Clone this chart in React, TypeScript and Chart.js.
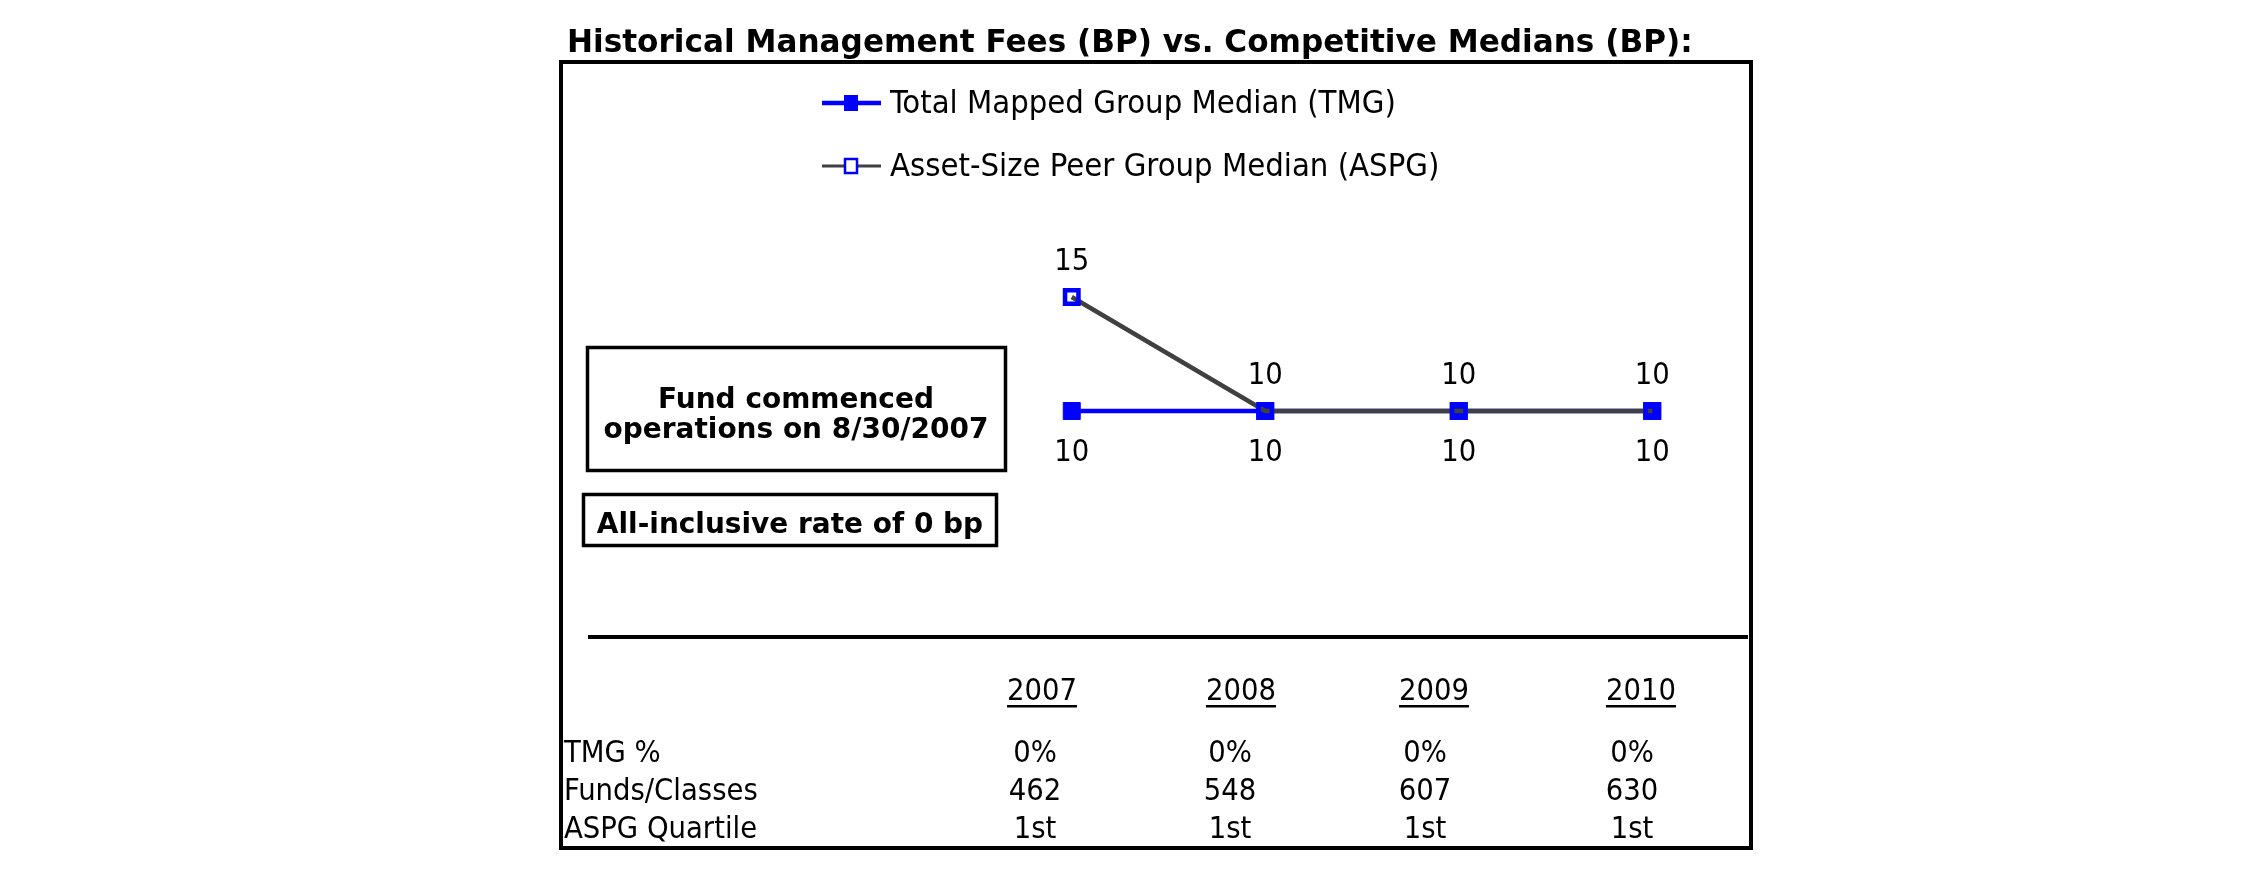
import { useEffect, useRef } from "react";
import { Chart, registerables } from "chart.js";

Chart.register(...registerables);

// ---------- data ----------
const years = ["2007", "2008", "2009", "2010"];
const tmgMedian = [10, 10, 10, 10];
const aspgMedian = [15, 10, 10, 10];
const tmgPct = ["0%", "0%", "0%", "0%"];
const fundsClasses = ["462", "548", "607", "630"];
const aspgQuartile = ["1st", "1st", "1st", "1st"];
const rowLabels = ["TMG %", "Funds/Classes", "ASPG Quartile"];
const chartTitle = "Historical Management Fees (BP) vs. Competitive Medians (BP):";
const seriesNames = ["Total Mapped Group Median (TMG)", "Asset-Size Peer Group Median (ASPG)"];
const noteLines1 = ["Fund commenced", "operations on 8/30/2007"];
const noteLines2 = ["All-inclusive rate of 0 bp"];

// ---------- style ----------
const FONT = '"DejaVu Sans Condensed", "DejaVu Sans", Verdana, sans-serif';
const BOLDFONT = '"DejaVu Sans", Verdana, sans-serif';
const BLUE = "#0000FF";
const GRAY = "#404040";

function fitSize(ctx: CanvasRenderingContext2D, text: string, weight: string, width: number, fam = FONT) {
  ctx.font = `${weight} 100px ${fam}`;
  return (100 * width) / ctx.measureText(text).width;
}

let REG = 30;

const decorPlugin = {
  id: "decor",
  beforeDraw(chart: any) {
    const ctx: CanvasRenderingContext2D = chart.ctx;
    ctx.save();
    REG = fitSize(ctx, "10", "normal", 35);
    ctx.restore();
  },
  afterDraw(chart: any) {
    const ctx: CanvasRenderingContext2D = chart.ctx;
    ctx.save();
    ctx.fillStyle = "#000";
    ctx.strokeStyle = "#000";
    ctx.textBaseline = "alphabetic";

    // title
    const ts = fitSize(ctx, chartTitle, "bold", 1126, BOLDFONT);
    ctx.font = `bold ${ts}px ${BOLDFONT}`;
    ctx.textAlign = "left";
    ctx.fillText(chartTitle, 567, 52);

    // outer frame
    ctx.lineWidth = 4;
    ctx.strokeRect(561, 62, 1190, 786);

    // legend
    const legY = [103, 166];
    ctx.strokeStyle = BLUE;
    ctx.lineWidth = 4.5;
    ctx.beginPath();
    ctx.moveTo(822, legY[0]);
    ctx.lineTo(881, legY[0]);
    ctx.stroke();
    ctx.fillStyle = BLUE;
    ctx.fillRect(851 - 7, legY[0] - 8, 14, 16);

    ctx.strokeStyle = GRAY;
    ctx.lineWidth = 3;
    ctx.beginPath();
    ctx.moveTo(822, legY[1]);
    ctx.lineTo(881, legY[1]);
    ctx.stroke();
    ctx.fillStyle = "#fff";
    ctx.fillRect(851 - 6, legY[1] - 7, 12, 14);
    ctx.strokeStyle = BLUE;
    ctx.lineWidth = 2.5;
    ctx.strokeRect(851 - 6, legY[1] - 7, 12, 14);

    ctx.fillStyle = "#000";
    const l1 = fitSize(ctx, seriesNames[0], "normal", 506);
    ctx.font = `normal ${l1}px ${FONT}`;
    ctx.fillText(seriesNames[0], 890, legY[0] + 10);
    ctx.fillText(seriesNames[1], 890, legY[1] + 10);

    // note boxes
    ctx.strokeStyle = "#000";
    ctx.lineWidth = 3.5;
    ctx.strokeRect(587.5, 347.5, 418, 123);
    ctx.strokeRect(583.5, 494.5, 413, 51);
    const bs = fitSize(ctx, noteLines1[1], "bold", 385, BOLDFONT);
    ctx.font = `bold ${bs}px ${BOLDFONT}`;
    ctx.textAlign = "center";
    ctx.fillText(noteLines1[0], 796, 408);
    ctx.fillText(noteLines1[1], 796, 438);
    ctx.fillText(noteLines2[0], 790, 533);

    // separator
    ctx.fillRect(588, 635, 1160, 4);

    // table
    ctx.font = `normal ${REG}px ${FONT}`;
    const yearX = [1042, 1241, 1434, 1641];
    years.forEach((y, i) => {
      ctx.textAlign = "center";
      ctx.fillText(y, yearX[i], 700);
      const w = ctx.measureText(y).width;
      ctx.fillRect(yearX[i] - w / 2, 705, w, 2.5);
    });
    const rowY = [762, 800, 838];
    const rows = [tmgPct, fundsClasses, aspgQuartile];
    const valX = [1035, 1230, 1425, 1632];
    rowLabels.forEach((lab, r) => {
      ctx.textAlign = "left";
      ctx.fillText(lab, 564, rowY[r]);
      rows[r].forEach((v, i) => {
        ctx.textAlign = "center";
        ctx.fillText(String(v), valX[i], rowY[r]);
      });
    });
    ctx.restore();
  },
  afterDatasetsDraw(chart: any) {
    const ctx: CanvasRenderingContext2D = chart.ctx;
    ctx.save();
    ctx.fillStyle = "#000";
    ctx.font = `normal ${REG}px ${FONT}`;
    ctx.textAlign = "center";
    ctx.textBaseline = "alphabetic";
    chart.data.datasets.forEach((ds: any, di: number) => {
      const meta = chart.getDatasetMeta(di);
      meta.data.forEach((pt: any, i: number) => {
        const v = ds.data[i];
        if (ds.labelPos === "above") ctx.fillText(String(v), pt.x, pt.y - 27);
        else ctx.fillText(String(v), pt.x, pt.y + 50);
      });
    });
    ctx.restore();
  },
};

export default function App() {
  const ref = useRef<HTMLCanvasElement>(null);
  useEffect(() => {
    if (!ref.current) return;
    const chart = new Chart(ref.current, {
      type: "line",
      data: {
        labels: years,
        datasets: [
          {
            label: seriesNames[1],
            data: aspgMedian,
            borderColor: GRAY,
            borderWidth: 4.5,
            tension: 0,
            pointStyle: "rect",
            pointRadius: 9.5,
            pointBorderWidth: 4.5,
            pointBorderColor: BLUE,
            pointBackgroundColor: "rgba(0,0,0,0)",
            order: 0,
            labelPos: "above",
          } as any,
          {
            label: seriesNames[0],
            data: tmgMedian,
            borderColor: BLUE,
            borderWidth: 4.5,
            tension: 0,
            pointStyle: "rect",
            pointRadius: 12,
            pointBorderWidth: 1,
            pointBorderColor: BLUE,
            pointBackgroundColor: BLUE,
            order: 1,
            labelPos: "below",
          } as any,
        ],
      },
      options: {
        responsive: false,
        animation: false,
        devicePixelRatio: 1,
        layout: { padding: { left: 975, right: 501, top: 183, bottom: 256 } },
        scales: {
          x: { type: "category", offset: true, display: false },
          y: { min: 0, max: 20, display: false },
        },
        plugins: {
          legend: { display: false },
          title: { display: false },
          tooltip: { enabled: false },
        },
      },
      plugins: [decorPlugin],
    });
    return () => chart.destroy();
  }, []);
  return (
    <div style={{ position: "absolute", left: 0, top: 0, width: 2250, height: 895, background: "#fff" }}>
      <canvas ref={ref} width={2250} height={895} style={{ display: "block" }} />
    </div>
  );
}
